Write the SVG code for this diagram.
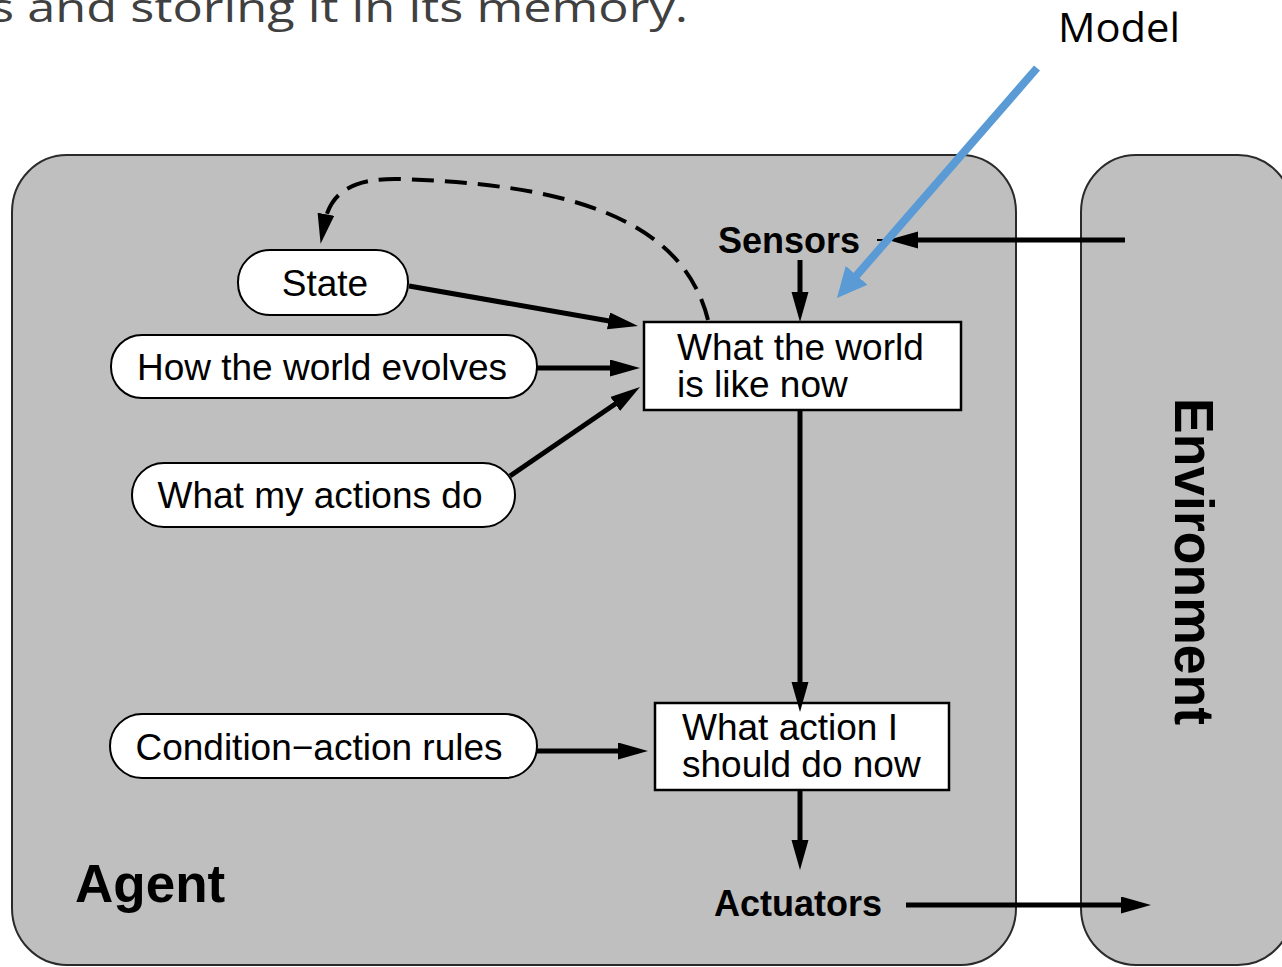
<svg xmlns="http://www.w3.org/2000/svg" width="1282" height="967" viewBox="0 0 1282 967">
<defs>
<style>
.panel{fill:#bfbfbf;stroke:#2a2a2a;stroke-width:2}
.pill{fill:#fff;stroke:#000;stroke-width:2}
.box{fill:#fff;stroke:#000;stroke-width:2.5}
.t{font-family:"Liberation Sans",Arial,sans-serif;font-size:37px;fill:#000}
.b{font-family:"Liberation Sans",Arial,sans-serif;font-weight:bold;fill:#000}
.cal{font-family:"Open Sans","Liberation Sans",sans-serif}
.ln{stroke:#000;stroke-width:5;fill:none}
.dash{stroke:#000;stroke-width:4;fill:none;stroke-dasharray:22 11}
.blue{stroke:#5b9bd5;stroke-width:8;fill:none}
</style>
<marker id="ah" markerUnits="userSpaceOnUse" markerWidth="32" markerHeight="20" refX="11" refY="8.5" orient="auto">
<path d="M0,0 L30,8.5 L0,17 z" fill="#000"/>
</marker>
<marker id="bh" markerUnits="userSpaceOnUse" markerWidth="32" markerHeight="30" refX="12" refY="14.5" orient="auto">
<path d="M0,0 L30,14.5 L0,29 z" fill="#5b9bd5"/>
</marker>
</defs>
<rect width="1282" height="967" fill="#fff"/>
<text class="cal" x="-10" y="22" font-size="40" fill="#404040" textLength="698" lengthAdjust="spacingAndGlyphs">s and storing it in its memory.</text>
<text class="cal" x="1058" y="42" font-size="40" fill="#000" textLength="122" lengthAdjust="spacingAndGlyphs">Model</text>

<g id="agent">
<rect class="panel" x="12" y="155" width="1004" height="810" rx="55" ry="57"/>
<text class="b" x="75" y="902" font-size="53">Agent</text>
</g>
<g id="environment">
<rect class="panel" x="1081" y="155" width="212" height="810" rx="55" ry="57"/>
<text class="b" transform="translate(1175,398) rotate(90)" font-size="55" textLength="327" lengthAdjust="spacingAndGlyphs">Environment</text>
</g>
<g id="sensors"><text class="b" x="718" y="253" font-size="36">Sensors</text></g>
<g id="actuators"><text class="b" x="714" y="916" font-size="36">Actuators</text></g>
<g id="state">
<rect class="pill" x="238" y="250" width="170" height="65" rx="32" ry="32"/>
<text class="t" x="325" y="296" text-anchor="middle">State</text>
</g>
<g id="evolves">
<rect class="pill" x="111" y="335" width="426" height="63" rx="31" ry="31"/>
<text class="t" x="322" y="380" text-anchor="middle">How the world evolves</text>
</g>
<g id="actions">
<rect class="pill" x="132" y="463" width="383" height="64" rx="32" ry="32"/>
<text class="t" x="320" y="508" text-anchor="middle">What my actions do</text>
</g>
<g id="rules">
<rect class="pill" x="110" y="714" width="427" height="64" rx="32" ry="32"/>
<text class="t" x="319" y="760" text-anchor="middle">Condition−action rules</text>
</g>
<g id="world-now">
<rect class="box" x="644" y="322" width="317" height="88"/>
<text class="t" x="677" y="360">What the world</text>
<text class="t" x="677" y="397">is like now</text>
</g>
<g id="action-now">
<rect class="box" x="655" y="703" width="294" height="87"/>
<text class="t" x="682" y="740">What action I</text>
<text class="t" x="682" y="777">should do now</text>
</g>
<g id="connectors">
<line class="ln" x1="409" y1="286" x2="619.3" y2="322.7" marker-end="url(#ah)"/>
<line class="ln" x1="537" y1="368" x2="621" y2="368" marker-end="url(#ah)"/>
<line class="ln" x1="510" y1="476" x2="624.3" y2="397.7" marker-end="url(#ah)"/>
<line class="ln" x1="800" y1="260" x2="800" y2="303" marker-end="url(#ah)"/>
<line class="ln" x1="800" y1="411" x2="800" y2="693" marker-end="url(#ah)"/>
<line class="ln" x1="800" y1="791" x2="800" y2="851" marker-end="url(#ah)"/>
<line class="ln" x1="537" y1="751" x2="629" y2="751" marker-end="url(#ah)"/>
<line class="ln" x1="906" y1="905" x2="1132" y2="905" stroke-width="6" marker-end="url(#ah)"/>
<line class="ln" x1="1125" y1="240" x2="907" y2="240" marker-end="url(#ah)"/>
<line x1="877" y1="240" x2="890" y2="240" stroke="#000" stroke-width="2"/>
<path class="dash" d="M708,320 C682,215 560,184 400,179 C352,178 330,192 324,225" marker-end="url(#ah)"/>
<line class="blue" x1="1037" y1="68" x2="848.8" y2="284.4" marker-end="url(#bh)"/>
</g>
</svg>
